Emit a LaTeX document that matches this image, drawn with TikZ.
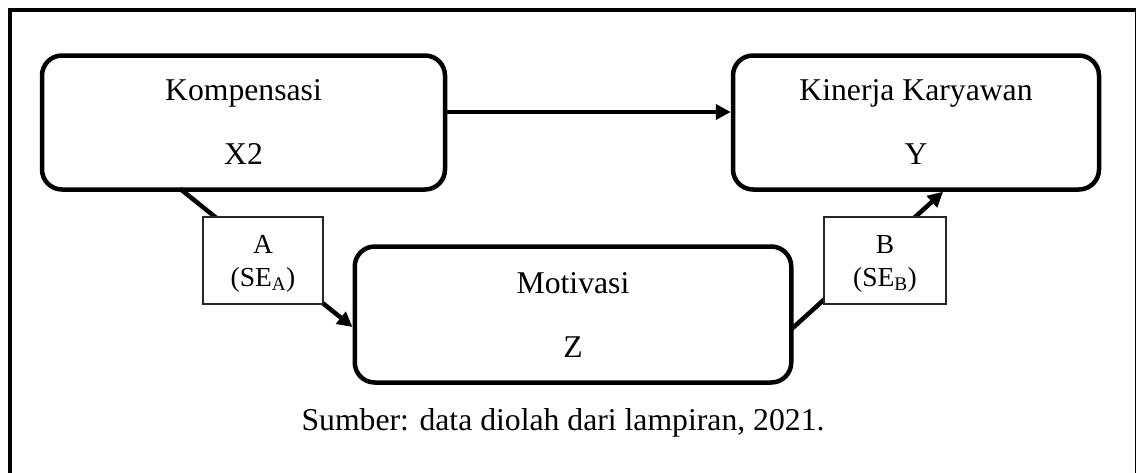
\documentclass[tikz,border=0pt]{standalone}
\usepackage{fontspec}
\setmainfont{Liberation Serif}
\usetikzlibrary{arrows.meta,calc}
\begin{document}
\begin{tikzpicture}[x=1pt,y=-1pt,
  varbox/.style={draw, line width=4.5pt, rounded corners=20pt, inner sep=0pt,
    align=center, font=\fontsize{31.7}{64}\selectfont},
  coefbox/.style={draw=black!85, fill=white, line width=1.3pt, inner sep=0pt,
    minimum height=87pt, align=center, text depth=0pt,
    font=\fontsize{27.5}{33}\selectfont},
  link/.style={line width=4.5pt, -{Triangle[length=15pt,width=15pt]}},
  src/.style={font=\fontsize{31.7}{38}\selectfont, anchor=base}]
\useasboundingbox (0,0) rectangle (1136,472);

% outer frame
\draw[line width=3.3pt] (10,10) rectangle (1137,480);

% variables
\node[varbox, minimum width=403pt, minimum height=134pt] (komp) at (243.5,122.5) {Kompensasi\\X2};
\node[varbox, minimum width=366pt, minimum height=134pt] (kin) at (916,122.5) {Kinerja Karyawan\\Y};
\node[varbox, minimum width=436.5pt, minimum height=136pt] (mot) at (573,314.5) {Motivasi\\Z};

% paths
\draw[link] ($(komp.east)+(0,-10.5)$) -- ($(kin.west)+(0,-10.5)$);
\draw[link] ($(komp.south)+(-63.5,-3)$) -- ($(mot.west)+(0,12.5)$);
\draw[link] ($(mot.east)+(-3,15.5)$) -- ($(kin.south)+(27,0)$);

% path coefficients
\node[coefbox, minimum width=120pt] (ca) at (263,260.5) {A\\(SE\textsubscript{A})};
\node[coefbox, minimum width=122pt] (cb) at (885,260.5) {B\\(SE\textsubscript{B})};

% source note
\node[src] (note) at (563,430) {Sumber: data diolah dari lampiran, 2021.};
\end{tikzpicture}
\end{document}
